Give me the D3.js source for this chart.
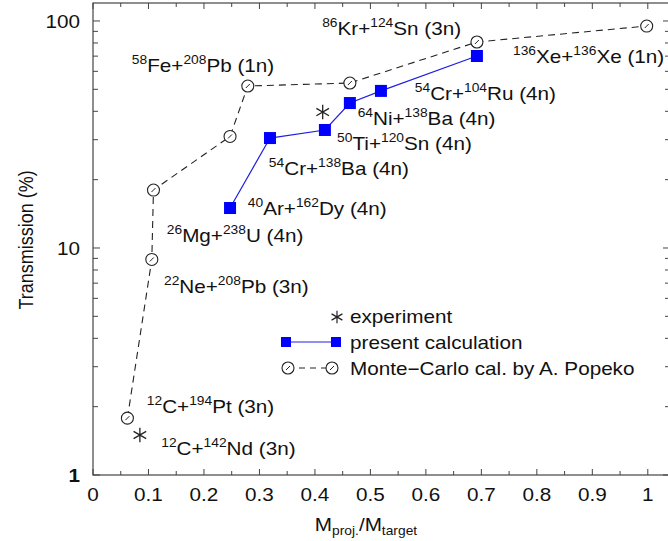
<!DOCTYPE html>
<html>
<head>
<meta charset="utf-8">
<script src="https://cdn.jsdelivr.net/npm/d3@7"></script>
<style>
  html, body { margin: 0; padding: 0; background: #fff; }
  svg { display: block; font-family: "Liberation Sans", Arial, sans-serif; }
</style>
</head>
<body>
<div class="chart"></div>
<script>
const width = 668, height = 541;

// Monte-Carlo calculation (A. Popeko) : mass ratio, transmission %
const mcRatio = [0.062, 0.106, 0.109, 0.247, 0.279, 0.463, 0.692, 0.998];
const mcTrans = [1.78, 8.9, 18.0, 31.0, 51.7, 53.3, 80.8, 95.0];

// present calculation
const calcRatio = [0.247, 0.319, 0.418, 0.463, 0.519, 0.692];
const calcTrans = [15.0, 30.5, 33.1, 43.5, 49.2, 70.1];

// experiment
const expRatio = [0.0845, 0.414];
const expTrans = [1.5, 39.7];

// reaction labels: [A proj, proj, A target, target + channel], anchored in data units
const labelParts = [
  ['86', 'Kr+', '124', 'Sn (3n)'],
  ['58', 'Fe+', '208', 'Pb (1n)'],
  ['136', 'Xe+', '136', 'Xe (1n)'],
  ['54', 'Cr+', '104', 'Ru (4n)'],
  ['64', 'Ni+', '138', 'Ba (4n)'],
  ['50', 'Ti+', '120', 'Sn (4n)'],
  ['54', 'Cr+', '138', 'Ba (4n)'],
  ['40', 'Ar+', '162', 'Dy (4n)'],
  ['26', 'Mg+', '238', 'U (4n)'],
  ['22', 'Ne+', '208', 'Pb (3n)'],
  ['12', 'C+', '194', 'Pt (3n)'],
  ['12', 'C+', '142', 'Nd (3n)']
];
const labelRatio = [0.413, 0.070, 0.757, 0.580, 0.477, 0.440, 0.317, 0.279, 0.133, 0.128, 0.097, 0.123];
const labelTrans = [86.8, 59.6, 65.3, 44.9, 34.8, 27.0, 21.0, 14.0, 10.6, 6.34, 1.88, 1.22];

const xTicks = [0, 0.1, 0.2, 0.3, 0.4, 0.5, 0.6, 0.7, 0.8, 0.9, 1];
const yTicks = [1, 10, 100];
const legendNames = ['experiment', 'present calculation', 'Monte\u2212Carlo cal. by A. Popeko'];

const svg = d3.select('.chart').append('svg')
  .attr('width', width).attr('height', height);

const x = d3.scaleLinear().domain([0, 1.04]).range([93, 670]);
const y = d3.scaleLog().domain([1, 120]).range([475, 3]);

const axisColor = '#444';
const textColor = '#111';
const stretch = 1.15; // the original picture is a bit wider than tall
const place = (px, py) => `translate(${px},${py}) scale(${stretch},1)`;

// frame
svg.append('rect')
  .attr('x', x(0)).attr('y', y(120))
  .attr('width', x(1.04) - x(0)).attr('height', y(1) - y(120))
  .attr('fill', 'none').attr('stroke', axisColor).attr('stroke-width', 1.2);

// ticks (inward) on all four sides
const xMinor = d3.range(0, 1.04, 0.05);
const yAll = [];
[1, 10, 100].forEach(d => { for (let k = 1; k <= 9; k++) if (d * k <= 120) yAll.push(d * k); });

const tickG = svg.append('g').attr('stroke', axisColor).attr('stroke-width', 1);
xMinor.forEach(v => {
  const len = Math.abs(v * 10 - Math.round(v * 10)) < 1e-6 ? 6 : 4;
  tickG.append('line').attr('x1', x(v)).attr('x2', x(v)).attr('y1', y(1)).attr('y2', y(1) - len);
  tickG.append('line').attr('x1', x(v)).attr('x2', x(v)).attr('y1', y(120)).attr('y2', y(120) + len);
});
yAll.forEach(v => {
  const len = yTicks.includes(v) ? 7 : 5;
  tickG.append('line').attr('x1', x(0)).attr('x2', x(0) + len).attr('y1', y(v)).attr('y2', y(v));
  tickG.append('line').attr('x1', x(1.04)).attr('x2', x(1.04) - len).attr('y1', y(v)).attr('y2', y(v));
});

// tick labels
svg.append('g').selectAll('text').data(xTicks).join('text')
  .attr('transform', d => place(x(d), 501))
  .attr('text-anchor', 'middle').attr('font-size', 18).attr('fill', textColor)
  .text(d => d3.format('~g')(d));
svg.append('g').selectAll('text').data(yTicks).join('text')
  .attr('transform', d => place(80, y(d) + 7))
  .attr('text-anchor', 'end').attr('font-size', 18).attr('fill', textColor)
  .attr('font-weight', d => d === 1 ? 'bold' : 'normal')
  .text(d => d);

// axis titles
svg.append('text')
  .attr('transform', 'translate(33,240) rotate(-90) scale(1,1.1)')
  .attr('text-anchor', 'middle').attr('font-size', 18).attr('fill', textColor)
  .text('Transmission (%)');
const xt = svg.append('text').attr('transform', place(366, 531))
  .attr('text-anchor', 'middle').attr('font-size', 18).attr('fill', textColor);
xt.append('tspan').text('M');
xt.append('tspan').attr('font-size', 12).attr('dy', 4).text('proj.');
xt.append('tspan').attr('dy', -4).text('/M');
xt.append('tspan').attr('font-size', 12).attr('dy', 4).text('target');

// Monte-Carlo dashed line + circles
const mc = mcRatio.map((r, i) => [r, mcTrans[i]]);
const line = d3.line().x(d => x(d[0])).y(d => y(d[1]));
svg.append('path').datum(mc).attr('d', line)
  .attr('fill', 'none').attr('stroke', '#222').attr('stroke-width', 1.1)
  .attr('stroke-dasharray', '7,5');

function circleMarker(g, cx, cy) {
  g.append('circle').attr('cx', cx).attr('cy', cy).attr('r', 6)
    .attr('fill', '#fff').attr('stroke', '#222').attr('stroke-width', 1.1);
  g.append('line').attr('x1', cx - 2).attr('y1', cy + 2).attr('x2', cx + 2).attr('y2', cy - 2)
    .attr('stroke', '#222').attr('stroke-width', 1);
}
const mcG = svg.append('g');
mc.forEach(d => circleMarker(mcG, x(d[0]), y(d[1])));

// present calculation
const calc = calcRatio.map((r, i) => [r, calcTrans[i]]);
svg.append('path').datum(calc).attr('d', line)
  .attr('fill', 'none').attr('stroke', '#2020e0').attr('stroke-width', 1.2);
svg.append('g').selectAll('rect').data(calc).join('rect')
  .attr('x', d => x(d[0]) - 6).attr('y', d => y(d[1]) - 6)
  .attr('width', 12).attr('height', 12).attr('fill', '#0000ff');

// experiment stars
const star = d3.symbol().type(d3.symbolAsterisk).size(150);
svg.append('g').selectAll('path').data(expRatio.map((r, i) => [r, expTrans[i]])).join('path')
  .attr('transform', d => `translate(${x(d[0])},${y(d[1])})`)
  .attr('d', star).attr('fill', 'none').attr('stroke', '#222').attr('stroke-width', 1.3);

// reaction labels
const lg = svg.append('g').attr('font-size', 18).attr('fill', textColor);
labelParts.forEach((p, i) => {
  const t = lg.append('text').attr('transform', place(x(labelRatio[i]), y(labelTrans[i])));
  t.append('tspan').attr('font-size', 12).attr('dy', -8).text(p[0]);
  t.append('tspan').attr('dy', 8).text(p[1]);
  t.append('tspan').attr('font-size', 12).attr('dy', -8).text(p[2]);
  t.append('tspan').attr('dy', 8).text(p[3]);
});

// legend
const leg = svg.append('g').attr('font-size', 18).attr('fill', textColor);
leg.append('path').attr('transform', 'translate(337,317)')
  .attr('d', d3.symbol().type(d3.symbolAsterisk).size(110)).attr('fill', 'none')
  .attr('stroke', '#222').attr('stroke-width', 1.2);
leg.append('line').attr('x1', 286).attr('x2', 336).attr('y1', 342).attr('y2', 342)
  .attr('stroke', '#2020e0').attr('stroke-width', 1.2);
[286, 336].forEach(cx => leg.append('rect').attr('x', cx - 5).attr('y', 337)
  .attr('width', 10).attr('height', 10).attr('fill', '#0000ff'));
leg.append('line').attr('x1', 288).attr('x2', 332).attr('y1', 368).attr('y2', 368)
  .attr('stroke', '#222').attr('stroke-width', 1).attr('stroke-dasharray', '6,5');
[288, 332].forEach(cx => circleMarker(leg, cx, 368));
legendNames.forEach((n, i) => {
  leg.append('text').attr('transform', place(350, 323 + i * 26)).text(n);
});
</script>
</body>
</html>
